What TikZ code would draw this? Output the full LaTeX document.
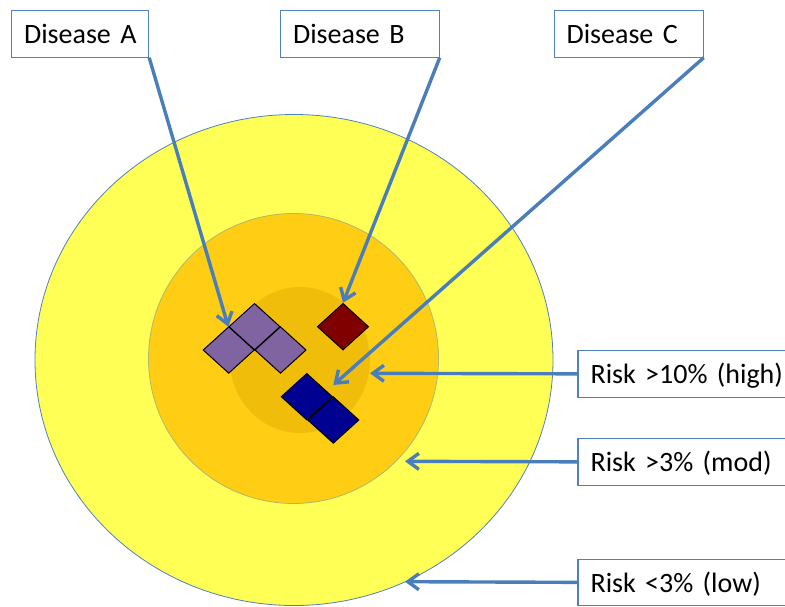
\documentclass[tikz,border=0pt]{standalone}
\usepackage{fontspec}
\setmainfont{Carlito}
\usetikzlibrary{arrows.meta,shapes.geometric}

\definecolor{ringblue}{RGB}{79,129,189}
\definecolor{arrblue}{RGB}{74,126,187}
\definecolor{lowyellow}{RGB}{255,255,85}
\definecolor{modorange}{RGB}{255,206,20}
\definecolor{highorange}{RGB}{240,190,10}
\definecolor{modedge}{RGB}{170,185,110}
\definecolor{tilepurple}{RGB}{128,100,162}
\definecolor{tilered}{RGB}{128,0,0}
\definecolor{tileblue}{RGB}{0,0,145}

\tikzset{
  lbl/.style={draw=ringblue, line width=1.2pt, fill=white, anchor=north west,
    align=left, inner xsep=12.5pt, inner ysep=0pt, minimum height=46.5pt,
    text height=21pt, text depth=1.5pt, font=\fontsize{28}{32}\selectfont},
  pointer/.style={draw=arrblue, line width=3.4pt, -{Straight Barb[length=11pt,width=16pt]}},
  tile/.style={diamond, draw=black, line width=1pt, minimum width=51.4pt,
    minimum height=46.7pt, inner sep=0pt}
}

\begin{document}
\begin{tikzpicture}[x=1pt, y=-1pt]
                \useasboundingbox (0,0) rectangle (785,606);

                % Risk zones
                \draw[ringblue, fill=lowyellow, line width=0.8pt] (294,360) ellipse [x radius=259pt, y radius=245.5pt];
                \draw[modedge, fill=modorange, line width=0.8pt] (293.5,358.5) circle [radius=145pt];
                \fill[highorange] (300,360) ellipse [x radius=70pt, y radius=73pt];

                % Disease tiles
                \node[tile, fill=tilepurple] (a1) at (254.5,326.7) {};
                \node[tile, fill=tilepurple] (a2) at (228.7,350) {};
                \node[tile, fill=tilepurple] (a3) at (280.5,350) {};
                \node[tile, fill=tilered] (b1) at (343,326.7) {};
                \node[tile, fill=tileblue] (c1) at (306.8,396.7) {};
                \node[tile, fill=tileblue] (c2) at (333.3,420) {};

                % Define node positions
                \node[lbl, text width=112pt] (dA) at (11,10) {\mbox{Disease A}};
                \node[lbl, text width=133.5pt] (dB) at (280,10) {\mbox{Disease B}};
                \node[lbl, text width=124pt] (dC) at (553.5,10) {\mbox{Disease C}};
                \node[lbl, inner xsep=12.7pt, text width=250pt] (rHigh) at (577.3,350) {\mbox{Risk >10\% (high)}};
                \node[lbl, inner xsep=12.7pt, text width=250pt] (rMod) at (577.3,438) {\mbox{Risk >3\% (mod)}};
                \node[lbl, inner xsep=12.7pt, text width=250pt] (rLow) at (577.3,558.5) {\mbox{Risk <3\% (low)}};

                \coordinate (cTip) at (333.3,385);
                \coordinate (highTip) at (370,373.3);
                \coordinate (modTip) at (405,461.3);
                \coordinate (lowTip) at (405,581.7);

                % Draw arrows
                \draw[pointer] (dA.south east) -- (a1.west);
                \draw[pointer] (dB.south east) -- (b1.north);
                \draw[pointer] (dC.south east) -- (cTip);
                \draw[pointer] (rHigh.west) -- (highTip);
                \draw[pointer] (rMod.west) -- (modTip);
                \draw[pointer] (rLow.west) -- (lowTip);
\end{tikzpicture}
\end{document}
